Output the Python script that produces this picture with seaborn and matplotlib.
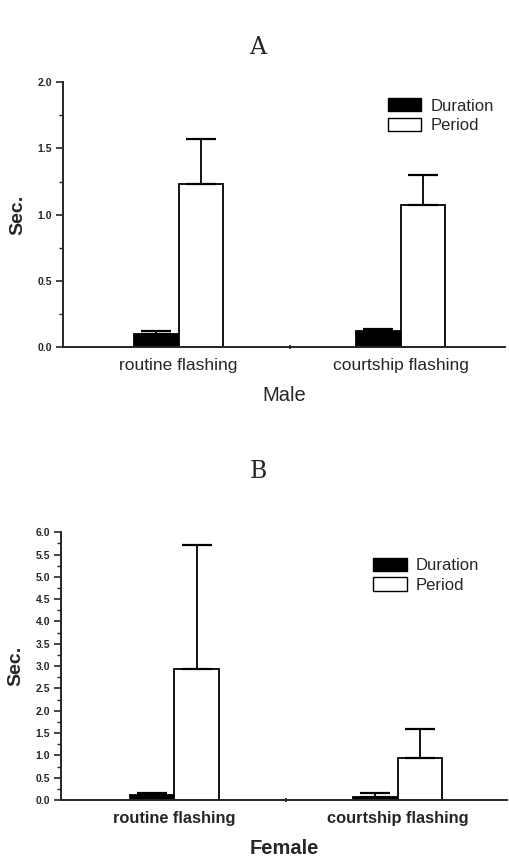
import matplotlib
matplotlib.use("Agg")
import matplotlib.pyplot as plt
from matplotlib.patches import Patch
from matplotlib.ticker import MultipleLocator, FixedLocator
import seaborn as sns
import pandas as pd

categories = ["routine flashing", "courtship flashing"]
series = ["Duration", "Period"]

male_duration = [0.10, 0.12]
male_duration_err = [0.02, 0.02]
male_period = [1.23, 1.07]
male_period_err = [0.34, 0.23]

female_duration = [0.11, 0.07]
female_duration_err = [0.05, 0.08]
female_period = [2.93, 0.94]
female_period_err = [2.79, 0.65]

male_yticks = [0.0, 0.5, 1.0, 1.5, 2.0]
male_yticklabels = ["0.0", "0.5", "1.0", "1.5", "2.0"]
female_yticks = [0.0, 0.5, 1.0, 1.5, 2.0, 2.5, 3.0, 3.5, 4.0, 4.5, 5.0, 5.5, 6.0]
female_yticklabels = ["0.0", "0.5", "1.0", "1.5", "2.0", "2.5", "3.0", "3.5",
                      "4.0", "4.5", "5.0", "5.5", "6.0"]

sns.set_theme(style="ticks")
plt.rcParams['font.family'] = ['Liberation Sans', 'DejaVu Sans']

fig = plt.figure(figsize=(5.09, 8.57), dpi=100)
ax1 = fig.add_axes([0.124, 0.595, 0.868, 0.309])
ax2 = fig.add_axes([0.120, 0.0665, 0.876, 0.3125])


def draw(ax, dur, dur_err, per, per_err, yticks, yticklabels, ymax, xlabel,
         xlabel_weight, legend_anchor, xlim, xlabelpad, xticksize):
    df = pd.DataFrame({
        "cat": categories * 2,
        "series": [series[0]] * 2 + [series[1]] * 2,
        "val": list(dur) + list(per),
    })
    sns.barplot(data=df, x="cat", y="val", hue="series", order=categories,
                hue_order=series, palette=["black", "white"], width=0.4,
                edgecolor="black", linewidth=1.3, errorbar=None, ax=ax,
                legend=False, saturation=1)
    errs = [dur_err, per_err]
    vals = [dur, per]
    bar_containers = list(ax.containers)
    for ci, cont in enumerate(bar_containers):
        for bi, bar in enumerate(cont.patches):
            xc = bar.get_x() + bar.get_width() / 2
            ax.errorbar([xc], [vals[ci][bi]], yerr=[[0], [errs[ci][bi]]],
                        fmt="none", ecolor="black", elinewidth=1.3,
                        capsize=10.5, capthick=1.6, zorder=1)
    ax.set_ylim(0, ymax)
    ax.set_xlim(*xlim)
    ax.set_yticks(yticks)
    ax.set_yticklabels(yticklabels, fontsize=7.5, fontweight="bold")
    ax.yaxis.set_minor_locator(MultipleLocator(0.25))
    ax.xaxis.set_minor_locator(FixedLocator([0.5]))
    ax.tick_params(axis="x", which="major", length=0, labelsize=xticksize, pad=8)
    ax.tick_params(axis="x", which="minor", length=3, width=1.2, direction="inout")
    ax.tick_params(axis="y", which="major", length=5, width=1.2, pad=3)
    ax.tick_params(axis="y", which="minor", length=3, width=1.0)
    for lab in ax.get_xticklabels():
        lab.set_fontweight("bold" if xlabel_weight == "bold" else "normal")
    ax.set_ylabel("Sec.", fontsize=14, fontweight="bold", labelpad=8)
    ax.set_xlabel(xlabel, fontsize=14.5, fontweight=xlabel_weight,
                  labelpad=xlabelpad)
    for s in ["top", "right"]:
        ax.spines[s].set_visible(False)
    for s in ["left", "bottom"]:
        ax.spines[s].set_linewidth(1.4)
    handles = [Patch(facecolor="black", edgecolor="black", label=series[0]),
               Patch(facecolor="white", edgecolor="black", label=series[1])]
    ax.legend(handles=handles, loc="upper left", bbox_to_anchor=legend_anchor,
              frameon=False, fontsize=12, handlelength=2.0, handleheight=0.85,
              handletextpad=0.55, labelspacing=0.25, borderaxespad=0,
              borderpad=0)


draw(ax1, male_duration, male_duration_err, male_period, male_period_err,
     male_yticks, male_yticklabels, 2.0, "Male", "normal", (0.735, 0.94),
     (-0.52, 1.47), 9, 12.5)
draw(ax2, female_duration, female_duration_err, female_period, female_period_err,
     female_yticks, female_yticklabels, 6.0, "Female", "bold", (0.70, 0.905),
     (-0.507, 1.49), 9, 11.8)

fig.text(0.507, 0.944, "A", fontsize=17, family="DejaVu Serif", ha="center",
         va="center")
fig.text(0.507, 0.450, "B", fontsize=17, family="DejaVu Serif", ha="center",
         va="center")

fig.savefig("out.png", dpi=100)
